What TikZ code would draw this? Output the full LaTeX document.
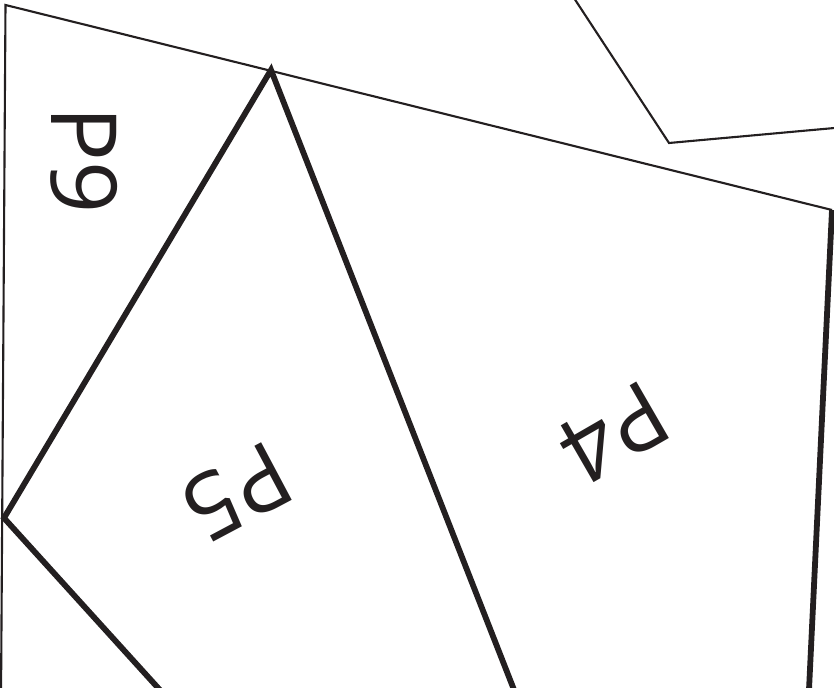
\documentclass[tikz,border=0pt]{standalone}
\usepackage{fontspec}
\setmainfont{Open Sans}
\definecolor{ink}{HTML}{231F20}
\begin{document}
\begin{tikzpicture}[x=0.02cm,y=-0.02cm,
  seam/.style={line width=1.2pt, ink},
  cut/.style={line width=3.3pt, ink},
  piece/.style={inner sep=0pt, text=ink, font=\fontsize{52}{52}\selectfont}]
\useasboundingbox (0,0) rectangle (834,688);
\clip (0,0) rectangle (834,688);
% corners of the pieces
\coordinate (tl) at (5.5,5);
\coordinate (bl) at (1,700);
\coordinate (apex) at (271,70);
\coordinate (tr) at (832,210);
\coordinate (br) at (808.5,700);
\coordinate (kink) at (4,518);
\coordinate (p5low) at (169,700);
\coordinate (p4low) at (518,700);
\coordinate (ntop) at (572,-5);
\coordinate (nbend) at (669,143);
\coordinate (nend) at (840,127.5);
% labels
\node[piece, rotate=-90] (p9) at (84,160) {P9};
\node[piece, rotate=208] (p5) at (237,492) {P5};
\node[piece, rotate=210] (p4) at (614,433) {P4};
% thin outlines
\draw[seam] (bl) -- (tl) -- (tr);
\draw[seam, line join=miter] (ntop) -- (nbend) -- (nend);
% thick outlines
\draw[cut, line join=miter] (p4low) -- (apex) -- (kink) -- (p5low);
\draw[cut] (tr) -- (br);
\end{tikzpicture}
\end{document}
